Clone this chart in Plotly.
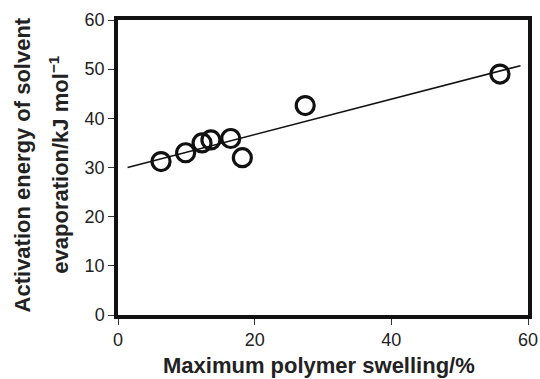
import plotly.graph_objects as go

swelling = [6.3, 9.9, 12.3, 13.6, 16.5, 18.2, 27.4, 55.9]
energy = [31.2, 33.0, 35.0, 35.6, 35.9, 32.0, 42.6, 49.0]
fit_x = [1.4, 58.9]
fit_y = [29.5 + 0.36 * v for v in fit_x]

x_ticks = [0, 20, 40, 60]
y_ticks = [0, 10, 20, 30, 40, 50, 60]

x_title = "<b>Maximum polymer swelling/%</b>"
y_title_1 = "<b>Activation energy of solvent</b>"
y_title_2 = "<b>evaporation/kJ mol<sup>−1</sup></b>"

fig = go.Figure()
fig.add_trace(go.Scatter(x=fit_x, y=fit_y, mode="lines",
                         line=dict(color="#111111", width=1.6), showlegend=False))
fig.add_trace(go.Scatter(x=swelling, y=energy, mode="markers",
                         marker=dict(symbol="circle-open", size=18, color="#111111",
                                     line=dict(width=3.2, color="#111111")),
                         showlegend=False))

font_family = "Liberation Sans, Arial, sans-serif"
axis_common = dict(range=[0, 60], showgrid=False, zeroline=False, automargin=False,
                   showline=True, linewidth=3.5, linecolor="#111111", mirror=True,
                   ticks="outside", ticklen=6, tickwidth=1.2, tickcolor="#333333",
                   tickfont=dict(size=18, color="#222222"))
fig.update_layout(
    width=540, height=379,
    margin=dict(l=118, r=12, t=20, b=64),
    paper_bgcolor="white", plot_bgcolor="white",
    font=dict(family=font_family, color="#222222", size=18),
    xaxis=dict(tickvals=x_ticks, **axis_common),
    yaxis=dict(tickvals=y_ticks, **axis_common),
    annotations=[
        dict(text=x_title, xref="paper", yref="paper", x=0.49, y=-0.17,
             xanchor="center", yanchor="middle", showarrow=False,
             font=dict(size=22, color="#222222")),
        dict(text=y_title_1, xref="paper", yref="paper", x=-0.232, y=0.51,
             xanchor="center", yanchor="middle", textangle=-90, showarrow=False,
             font=dict(size=22, color="#222222")),
        dict(text=y_title_2, xref="paper", yref="paper", x=-0.146, y=0.51,
             xanchor="center", yanchor="middle", textangle=-90, showarrow=False,
             font=dict(size=22, color="#222222")),
    ],
)
fig.write_html("out.html")
